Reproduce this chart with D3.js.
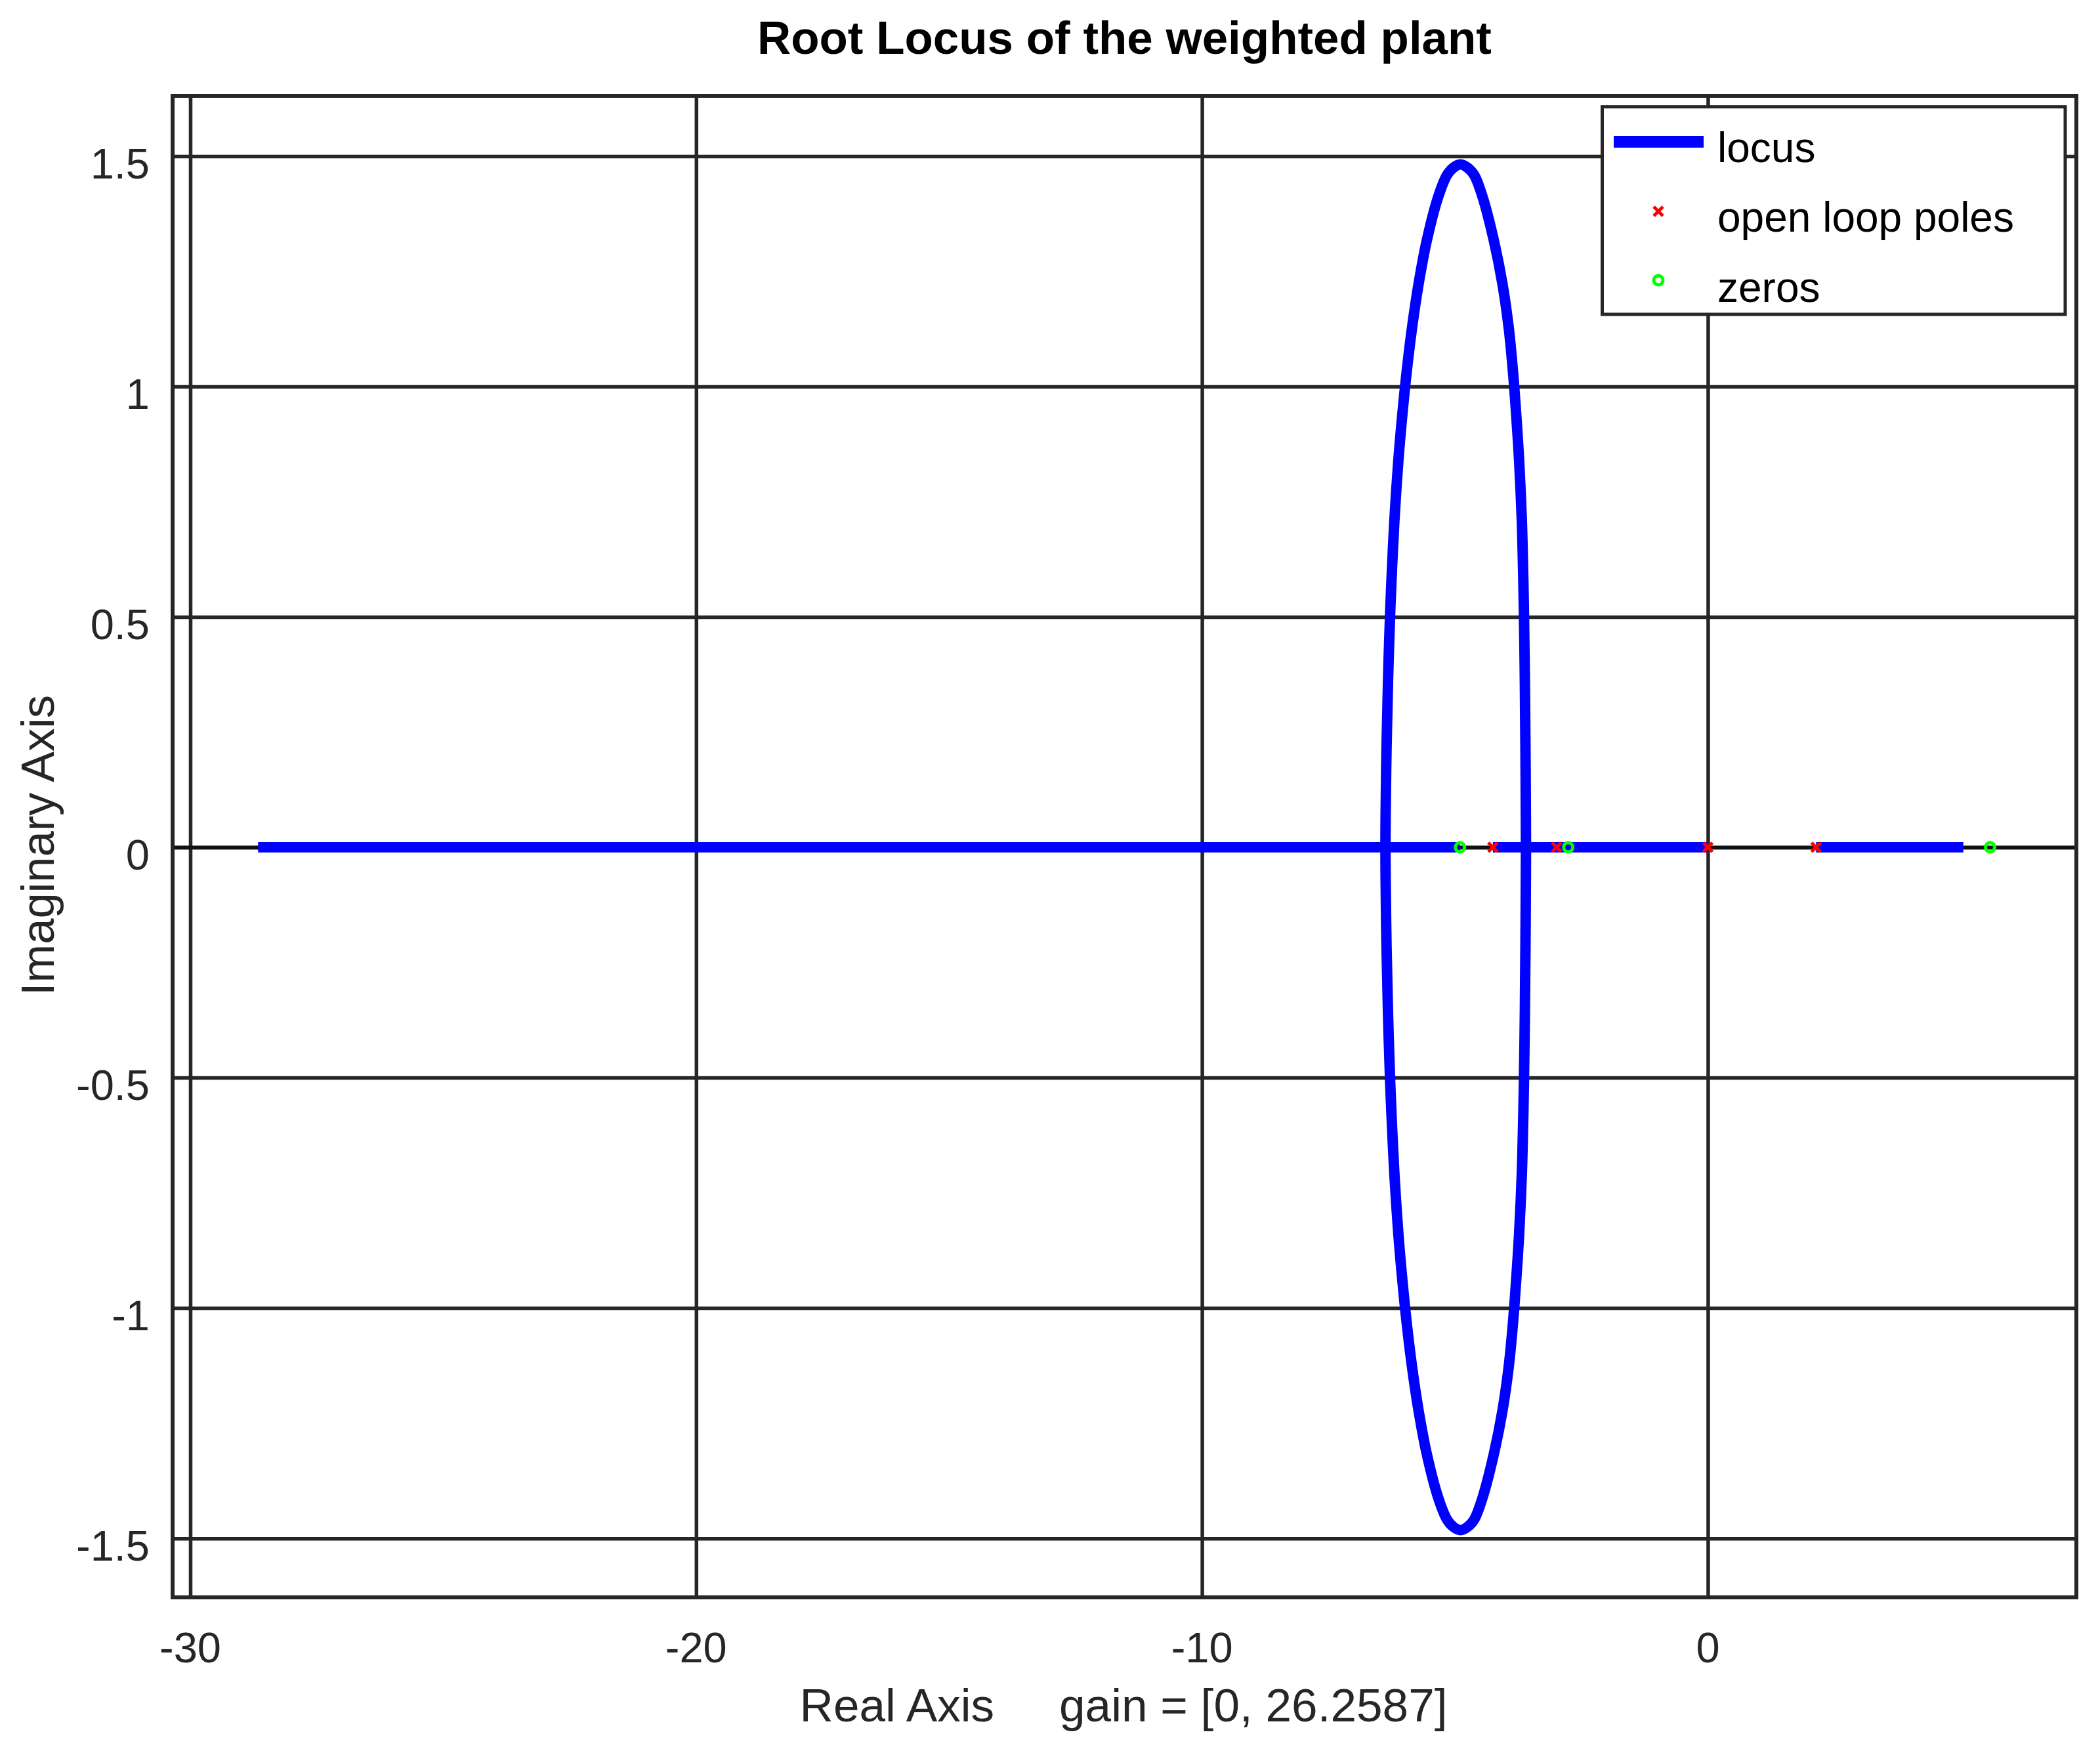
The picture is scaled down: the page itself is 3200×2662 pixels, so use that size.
<!DOCTYPE html>
<html>
<head>
<meta charset="utf-8">
<script src="https://cdn.jsdelivr.net/npm/d3@7"></script>
<style>
  html, body { margin: 0; padding: 0; background: #ffffff; }
  svg { display: block; }
  text { font-family: "Liberation Sans", Arial, Helvetica, sans-serif; fill: #262626; }
</style>
</head>
<body>
<svg id="chart" width="3200" height="2662"></svg>
<script>
// ---------- data ----------
const titleText = "Root Locus of the weighted plant";
const xLabelText = "Real Axis     gain = [0, 26.2587]";
const yLabelText = "Imaginary Axis";

const xDomain = [-30.35, 7.285];
const yDomain = [-1.628, 1.631];

const xTicks = [-30, -20, -10, 0];
const xTickLabels = ["-30", "-20", "-10", "0"];
const yTicks = [-1.5, -1, -0.5, 0, 0.5, 1, 1.5];
const yTickLabels = ["-1.5", "-1", "-0.5", "0", "0.5", "1", "1.5"];

// open loop poles and zeros (real parts, all on the real axis)
const poles = [-4.25, -2.99, 0, 2.14];
const zeros = [-4.90, -2.76, 5.58];

// locus branches lying on the real axis: [start, end]
const realAxisLocusStart = [-28.66, -4.25, 2.14];
const realAxisLocusEnd   = [-4.90, 0, 5.05];

// complex branch (upper half, left crossing -> top -> right crossing);
// the lower half is its complex conjugate
const branchRe = [-6.373, -6.370, -6.352, -6.322, -6.280, -6.242, -6.198, -6.120, -6.045, -5.957,
                  -5.850, -5.719, -5.552, -5.330, -5.157, -5.030, -4.888, -4.750, -4.619, -4.455,
                  -4.235, -4.060, -3.935, -3.850, -3.785, -3.730, -3.677, -3.654, -3.636, -3.618,
                  -3.606, -3.598, -3.596];
const branchIm = [0, 0.070, 0.217, 0.364, 0.511, 0.609, 0.707, 0.837, 0.933, 1.029,
                  1.126, 1.2225, 1.319, 1.412, 1.459, 1.475, 1.482, 1.475, 1.459, 1.412,
                  1.319, 1.2225, 1.126, 1.029, 0.933, 0.837, 0.707, 0.609, 0.511, 0.364,
                  0.217, 0.070, 0];

const legendLabels = ["locus", "open loop poles", "zeros"];

// ---------- layout ----------
const svg = d3.select("#chart");
const plot = { left: 263, right: 3164, top: 146, bottom: 2434 };
const gridColor = "#262626";

const x = d3.scaleLinear().domain(xDomain).range([plot.left, plot.right]);
const y = d3.scaleLinear().domain(yDomain).range([plot.bottom, plot.top]);

svg.append("rect").attr("width", 3200).attr("height", 2662).attr("fill", "#ffffff");

// grid lines through axes
const gx = svg.append("g").attr("transform", `translate(0,${plot.bottom})`)
  .call(d3.axisBottom(x).tickValues(xTicks).tickSize(-(plot.bottom - plot.top)).tickFormat(""));
const gy = svg.append("g").attr("transform", `translate(${plot.left},0)`)
  .call(d3.axisLeft(y).tickValues(yTicks).tickSize(-(plot.right - plot.left)).tickFormat(""));
[gx, gy].forEach(g => {
  g.select(".domain").remove();
  g.selectAll(".tick line").attr("stroke", gridColor).attr("stroke-width", 5.5);
});
gy.selectAll(".tick line").filter(d => d === 0).attr("stroke", "#111111").attr("stroke-width", 6);

// tick labels
svg.append("g").selectAll("text").data(xTicks).join("text")
  .attr("x", d => x(d)).attr("y", 2533)
  .attr("text-anchor", "middle").attr("font-size", 65)
  .text((d, i) => xTickLabels[i]);
svg.append("g").selectAll("text").data(yTicks).join("text")
  .attr("x", 228).attr("y", d => y(d) + 34)
  .attr("text-anchor", "end").attr("font-size", 65)
  .text((d, i) => yTickLabels[i]);

// locus on the real axis
const locusColor = "#0000ff";
svg.append("g").selectAll("line").data(realAxisLocusStart).join("line")
  .attr("x1", d => x(d)).attr("x2", (d, i) => x(realAxisLocusEnd[i]))
  .attr("y1", y(0)).attr("y2", y(0))
  .attr("stroke", locusColor).attr("stroke-width", 16);

// complex branch
const upper = branchRe.map((r, i) => [r, branchIm[i]]);
const lower = upper.slice(1, -1).reverse().map(p => [p[0], -p[1]]);
const loop = upper.concat(lower);
svg.append("path")
  .datum(loop)
  .attr("d", d3.line().x(d => x(d[0])).y(d => y(d[1])).curve(d3.curveCatmullRomClosed.alpha(0.5)))
  .attr("fill", "none").attr("stroke", locusColor).attr("stroke-width", 16)
  .attr("stroke-linejoin", "round");

// markers
function drawCross(g, cx, cy) {
  g.append("path")
    .attr("d", `M${cx - 7},${cy - 7}L${cx + 7},${cy + 7}M${cx - 7},${cy + 7}L${cx + 7},${cy - 7}`)
    .attr("stroke", "#ff0000").attr("stroke-width", 5).attr("fill", "none");
}
function drawCircle(g, cx, cy) {
  g.append("circle").attr("cx", cx).attr("cy", cy).attr("r", 7)
    .attr("stroke", "#00ff00").attr("stroke-width", 5).attr("fill", "none");
}
const mk = svg.append("g");
zeros.forEach(z => drawCircle(mk, x(z), y(0)));
poles.forEach(p => drawCross(mk, x(p), y(0)));

// plot border
svg.append("rect")
  .attr("x", plot.left).attr("y", plot.top)
  .attr("width", plot.right - plot.left).attr("height", plot.bottom - plot.top)
  .attr("fill", "none").attr("stroke", gridColor).attr("stroke-width", 6);

// title and axis labels
svg.append("text")
  .attr("x", (plot.left + plot.right) / 2).attr("y", 82)
  .attr("text-anchor", "middle").attr("font-size", 71).attr("font-weight", "bold")
  .style("fill", "#000000")
  .attr("textLength", 1119).attr("lengthAdjust", "spacingAndGlyphs")
  .text(titleText);

svg.append("text")
  .attr("x", 1712).attr("y", 2623)
  .attr("text-anchor", "middle").attr("font-size", 71)
  .style("white-space", "pre")
  .attr("textLength", 987).attr("lengthAdjust", "spacingAndGlyphs")
  .text(xLabelText);

svg.append("text")
  .attr("transform", "translate(82,1288) rotate(-90)")
  .attr("text-anchor", "middle").attr("font-size", 71)
  .attr("textLength", 458).attr("lengthAdjust", "spacingAndGlyphs")
  .text(yLabelText);

// legend
const lg = svg.append("g");
lg.append("rect")
  .attr("x", 2441.5).attr("y", 162.7).attr("width", 3147 - 2441.5).attr("height", 479 - 162.7)
  .attr("fill", "#ffffff").attr("stroke", gridColor).attr("stroke-width", 5);
lg.append("line").attr("x1", 2459).attr("x2", 2596).attr("y1", 216).attr("y2", 216)
  .attr("stroke", locusColor).attr("stroke-width", 18);
drawCross(lg, 2527, 322);
drawCircle(lg, 2527, 427);
const legendBaselines = [247, 353, 460];
lg.selectAll("text.leg").data(legendLabels).join("text")
  .attr("class", "leg")
  .attr("x", 2617).attr("y", (d, i) => legendBaselines[i])
  .attr("font-size", 64)
  .style("fill", "#000000")
  .text(d => d);
</script>
</body>
</html>
